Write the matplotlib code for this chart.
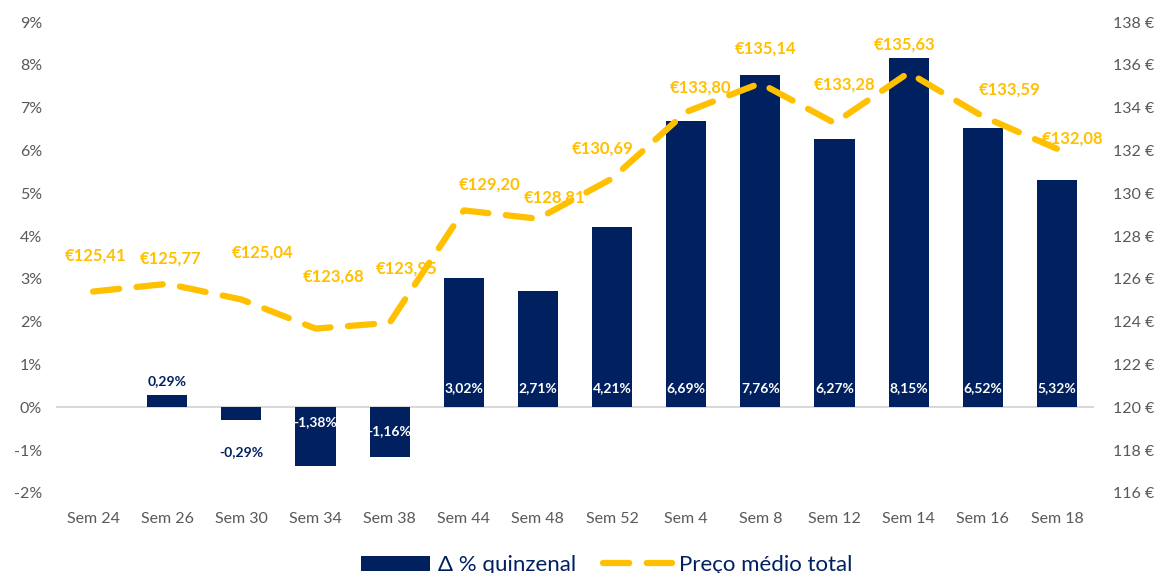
import numpy as np
import matplotlib.pyplot as plt

# data
semanas = ['Sem 24', 'Sem 26', 'Sem 30', 'Sem 34', 'Sem 38', 'Sem 44', 'Sem 48',
           'Sem 52', 'Sem 4', 'Sem 8', 'Sem 12', 'Sem 14', 'Sem 16', 'Sem 18']
delta_pct = [0.00, 0.29, -0.29, -1.38, -1.16, 3.02, 2.71, 4.21, 6.69, 7.76, 6.27, 8.15, 6.52, 5.32]
preco = [125.41, 125.77, 125.04, 123.68, 123.95, 129.20, 128.81, 130.69, 133.80,
         135.14, 133.28, 135.63, 133.59, 132.08]

# label offsets in pixels (dx, dy) for price labels
preco_off = [(2, 36), (3, 25), (21, 47), (18, 52), (17, 54), (26, 26), (17, 21),
             (-9, 30), (14, 24), (5, 35), (10, 39), (-4, 28), (27, 27), (16, 10)]

navy = '#002060'
gold = '#FFC000'
grey = '#595959'
plt.rcParams['font.family'] = ['Lato', 'DejaVu Sans']

fig = plt.figure(figsize=(11.58, 5.73), dpi=100)
ax = fig.add_axes([56 / 1158, 1 - 493 / 573, (1094 - 56) / 1158, (493 - 22) / 573])
ax2 = ax.twinx()

x = np.arange(len(semanas))
bars = ax.bar(x, delta_pct, width=0.54, color=navy, zorder=3, label='Δ % quinzenal')
ax.axhline(0, color='#D9D9D9', lw=1.5, zorder=2)

ax.set_ylim(-2, 9)
ax.set_yticks(range(-2, 10))
ax.set_yticklabels([f'{v}%' for v in range(-2, 10)])
ax.set_xlim(-0.5, len(semanas) - 0.5)
ax.set_xticks(x)
ax.set_xticklabels(semanas)

ax2.set_ylim(116, 138)
ax2.set_yticks(range(116, 139, 2))
ax2.set_yticklabels([f'{v} €' for v in range(116, 139, 2)])

for a in (ax, ax2):
    for s in a.spines.values():
        s.set_visible(False)
    a.tick_params(length=0, labelsize=11.5, colors=grey)
ax.tick_params(axis='x', pad=14)
ax.tick_params(axis='y', pad=10)
ax2.tick_params(axis='y', pad=14)

# bar labels
for xi, v in zip(x, delta_pct):
    if v == 0:
        continue
    txt = f'{v:.2f}%'.replace('.', ',')
    if 0 < v < 1:
        ax.annotate(txt, (xi, v), xytext=(0, 14), textcoords='offset pixels',
                    ha='center', va='center', color=navy, fontsize=10, fontweight='bold')
    elif -1 < v < 0:
        ax.annotate(txt, (xi, v), xytext=(0, -32), textcoords='offset pixels',
                    ha='center', va='center', color=navy, fontsize=10, fontweight='bold')
    elif v < 0:
        dy = -15 if v < -1.3 else -24
        ax.annotate(txt, (xi, 0), xytext=(0, dy), textcoords='offset pixels',
                    ha='center', va='center', color='white', fontsize=10,
                    fontweight='bold', zorder=4)
    else:
        ax.annotate(txt, (xi, 0), xytext=(0, 19), textcoords='offset pixels',
                    ha='center', va='center', color='white', fontsize=10,
                    fontweight='bold', zorder=4)

# price line
line, = ax2.plot(x, preco, color=gold, lw=4.5, dashes=(4.2, 2.8),
                 dash_capstyle='round', zorder=2, label='Preço médio total')
for xi, p, (dx, dy) in zip(x, preco, preco_off):
    ax2.annotate(f'€{p:.2f}'.replace('.', ','), (xi, p), xytext=(dx, dy),
                 textcoords='offset pixels', ha='center', va='center',
                 color=gold, fontsize=12, fontweight='bold', zorder=6)

leg = fig.legend(handles=[bars, line], loc='center', bbox_to_anchor=(607 / 1158, 1 - 565 / 573),
                 ncol=2, frameon=False, fontsize=16, handlelength=3.1, handleheight=0.65,
                 columnspacing=1.2, handletextpad=0.35)
for t in leg.get_texts():
    t.set_color(navy)

fig.savefig('out.png', dpi=100)
